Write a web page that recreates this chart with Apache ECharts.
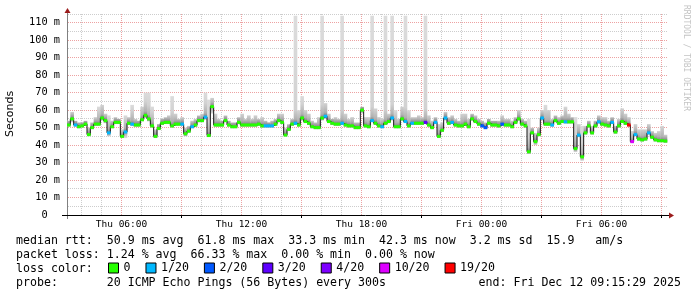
<!DOCTYPE html>
<html><head><meta charset="utf-8">
<script src="https://cdn.jsdelivr.net/npm/echarts@6/dist/echarts.min.js"></script>
<style>html,body{margin:0;padding:0;background:#fff}#c{width:697px;height:297px}</style>
</head><body><div id="c"></div>
<script>
// time axis in hours since Thu 00:00; data start Thu 03:18, 10-minute steps
const startHour = 3.3;
const endHour = 33.3;
const stepHours = 1 / 6;

const median = [51.5,55,51.5,50.5,51,52,46,50,52,52,
 55.5,54,47,50.5,53,53,45,47.5,52.5,52,
 51.5,51.5,54.5,57,55,51,45,49.5,52.5,53,
 53,51,52,52,52,46.5,48,50.5,51.5,54,
 54,56,45.5,62,51.5,51.5,51.5,54,51.5,50.5,
 50.5,53,51.5,51.5,51.5,51.5,51.5,52,51,51,
 51,51,52,54,53,45.7,49,52,52.5,51.5,
 55.5,53.5,52.5,50.5,50,50,55.5,56.5,53.5,52.5,
 52,52,52.5,51.5,51,51,50,50,60,51,
 50.5,54,52.5,51,50.5,52.5,53.5,55.5,50.5,50.5,
 55,53.5,51,52.5,52.5,52.5,52.5,53,51.5,50,
 53,45,48.5,55.5,52.5,53,51.5,51,51,52,
 50.5,55,53.5,52,51,50,52.5,51.5,51.5,51,
 52,51.5,51.5,50.5,53,55,52,51,36.2,47,
 42,46,55.5,52,52,51.5,54,52.5,53.5,53.3,
 53.3,53.3,38,45.7,33.3,47,51,47,51,53.3,
 52,51.5,51,53,47.5,51,53.5,52.5,51.5,42,
 46,43.5,43,43.5,47,44.5,43,42.5,42.5,42.3];

const loss = [0,0,1,0,0,0,0,0,0,0,
 0,0,1,0,0,0,0,1,0,1,
 0,0,0,0,0,0,0,0,0,0,
 0,0,0,0,1,0,0,1,0,0,
 0,1,0,0,0,0,0,0,0,0,
 0,0,0,0,0,0,0,0,0,1,
 1,1,0,0,0,0,0,0,1,0,
 0,0,0,0,0,0,0,1,0,0,
 0,0,1,0,0,0,0,0,0,0,
 0,1,0,0,1,0,0,1,0,0,
 0,1,0,1,0,0,0,3,0,0,
 1,0,0,1,0,1,0,0,0,0,
 0,0,0,0,2,2,0,0,0,0,
 2,0,0,0,0,0,0,0,0,0,
 0,0,1,0,0,1,0,0,0,1,
 0,0,0,1,0,0,0,0,0,1,
 0,0,0,1,0,0,0,0,6,5,
 1,0,0,0,1,0,0,0,0,0];

const smokeHi = [54,59,54,53,53,54,50,53,56,62,
 63,58,57,54,56,55,49,57,56,63,
 55,54,62,70,70,62,49,52,55,56,
 57,68,58,55,56,50,51,54,55,57,
 58,70,66,67,58,55,54,57,54,53,
 53,56,58,55,57,55,57,55,56,54,
 53,54,55,58,58,50,52,55,114,60,
 68,60,58,54,53,56,114,64,58,55,
 56,55,114,58,55,56,53,53,62,56,
 56,114,61,56,55,114,58,114,60,55,
 62,114,60,56,56,57,56,114,57,54,
 56,52,53,59,56,57,55,54,58,58,
 55,58,57,55,54,53,55,54,54,54,
 57,55,55,54,56,60,55,54,55,50,
 47,50,60,63,60,55,57,56,57,62,
 58,56,56,52,51,51,54,51,54,57,
 56,56,54,56,51,55,61,58,56,48,
 52,49,49,49,52,48,47,48,51,46];

const smokeLo = [50.5,53,50.5,49.5,50,51,45,49,51,51,
 54,52.5,45,49.5,52,52,44,44,51.5,51,
 50.5,50.5,53.5,55.5,53.5,50,44,48.5,51.5,52,
 52,50,51,51,51,45,47,49.5,50.5,53,
 53,54.5,44.5,58,50.5,50.5,50.5,53,50.5,49.5,
 49.5,52,50.5,50.5,50.5,50.5,50.5,51,50,50,
 50,50,51,53,52,45,48,51,51.5,50.5,
 54,52.5,51.5,49.5,49,49,54,55,52.5,51.5,
 51,51,51.5,50.5,50,50,49,49,58,50,
 49.5,53,51.5,50,49.5,51.5,52.5,54,49.5,49.5,
 54,52.5,50,51.5,51.5,51.5,51.5,52,50.5,49,
 52,44,47.5,54,51.5,52,50.5,50,50,51,
 49.5,54,52.5,51,50,49,51.5,50.5,50.5,50,
 51,50.5,50.5,49.5,52,54,51,50,35,46,
 40,45,54,51,51,50.5,53,51.5,52.5,52.3,
 52.3,52.3,36,44.5,31,46,50,46,50,52.3,
 51,50.5,50,52,46.5,50,52.5,51.5,50.5,41,
 45,42.5,42,42.5,46,43.5,42,41.5,41.5,41.3];

const lossNames = ['0','1/20','2/20','3/20','4/20','10/20','19/20'];
const lossColors = ['#26ff00','#00b8ff','#0059ff','#5e00ff','#7e00ff','#dd00ff','#ff0000'];

const gridHours = [4,5,6,7,8,9,10,11,12,13,14,15,16,17,18,19,20,21,22,23,24,25,26,27,28,29,30,31,32,33];
const gridValues = [5,10,15,20,25,30,35,40,45,50,55,60,65,70,75,80,85,90,95,100,105,110,115];
const xLabels = {6:'Thu 06:00', 12:'Thu 12:00', 18:'Thu 18:00', 24:'Fri 00:00', 30:'Fri 06:00'};
const tickHours = [9,15,21,27,33];

const yMax = 115, yStep = 5;

const legendLines = [
  'median rtt:  50.9 ms avg  61.8 ms max  33.3 ms min  42.3 ms now  3.2 ms sd  15.9   am/s',
  'packet loss: 1.24 % avg  66.33 % max  0.00 % min  0.00 % now',
  'loss color:',
  'probe:       20 ICMP Echo Pings (56 Bytes) every 300s'
];
const endText = 'end: Fri Dec 12 09:15:29 2025';

const MONO = '"DejaVu Sans Mono", monospace';
const RED = '#eda2a2', GRAY = '#cdcdcd', ARROW = '#9b1c1c';

const chart = echarts.init(document.getElementById('c'), null, {renderer: 'canvas'});

const tStart = i => startHour + i * stepHours;
const smokeData = median.map((m, i) => [tStart(i), tStart(i + 1), smokeLo[i], m, smokeHi[i]]);
const lineData = median.map((m, i) => [tStart(i), m]);
lineData.push([endHour, median[median.length - 1]]);

function clampStops(offs, cols) {
  const out = [];
  let prev = 0;
  for (let k = 0; k < offs.length; k++) {
    let o = Math.min(1, Math.max(prev, offs[k]));
    out.push({offset: o, color: cols[k]});
    prev = o;
  }
  return out;
}

function renderSmoke(params, api) {
  const t0 = api.value(0), t1 = api.value(1), lo = api.value(2), med = api.value(3), hi = api.value(4);
  const pHi = api.coord([t0, hi]);
  const pLo = api.coord([t1, lo]);
  const pMed = api.coord([t0, med]);
  const yTop = pHi[1], yBot = pLo[1];
  const H = Math.max(1, yBot - yTop);
  const m = (pMed[1] - yTop) / H;
  const stops = clampStops([0, m - 14 / H, m - 4 / H, m, m + 2 / H, 1],
    ['#dcdcdc', '#d2d2d2', '#b0b0b0', '#7a7a7a', '#b4b4b4', '#dcdcdc']);
  return {
    type: 'rect',
    shape: {x: pHi[0], y: yTop, width: pLo[0] - pHi[0] + 0.3, height: H},
    style: {fill: new echarts.graphic.LinearGradient(0, 0, 0, 1, stops)}
  };
}

function renderLoss(params, api) {
  const p0 = api.coord([api.value(0), api.value(2)]);
  const p1 = api.coord([api.value(1), api.value(2)]);
  return {
    type: 'rect',
    shape: {x: p0[0], y: p0[1] - 1.5, width: p1[0] - p0[0] + 0.3, height: 3},
    style: {fill: api.visual('color')}
  };
}

// dotted line built from 1px squares every 2px
function dots(x1, y1, x2, y2, color) {
  const out = [];
  if (x1 === x2) {
    for (let y = y1; y < y2; y += 2) out.push({type: 'rect', shape: {x: x1, y: y, width: 1, height: 1}, style: {fill: color}});
  } else {
    for (let x = x1; x < x2; x += 2) out.push({type: 'rect', shape: {x: x, y: y1, width: 1, height: 1}, style: {fill: color}});
  }
  return out;
}

function renderVGrid(params, api) {
  const cs = params.coordSys;
  const h = api.value(0);
  const xi = Math.floor(api.coord([h, 0])[0]);
  const x = xi + 0.5;
  const bottom = cs.y + cs.height;
  let children = dots(xi, Math.round(cs.y), xi, Math.round(bottom), h % 3 === 0 ? RED : GRAY);
  if (tickHours.indexOf(h) >= 0) {
    children.push({type: 'line', shape: {x1: x, y1: bottom, x2: x, y2: bottom + 3},
      style: {stroke: '#000', lineWidth: 1}});
  }
  if (xLabels[h]) {
    children.push({type: 'text', x: x, y: bottom + 10,
      style: {text: xLabels[h], font: '9.5px ' + MONO, fill: '#000', align: 'center', verticalAlign: 'middle',
        textAlign: 'center', textVerticalAlign: 'middle'}});
  }
  if (params.dataIndex === 0) {
    const x0 = Math.floor(cs.x) + 0.5;
    const yb = Math.floor(bottom) + 0.5;
    const x1 = cs.x + cs.width;
    children.push({type: 'line', shape: {x1: x0, y1: bottom + 4, x2: x0, y2: cs.y - 1}, style: {stroke: '#808080', lineWidth: 1}});
    children.push({type: 'line', shape: {x1: cs.x - 5, y1: yb, x2: x1 + 2, y2: yb}, style: {stroke: '#000', lineWidth: 1}});
    children.push({type: 'polygon', shape: {points: [[x0, cs.y - 6], [x0 - 3, cs.y - 1], [x0 + 3, cs.y - 1]]}, style: {fill: ARROW}});
    children.push({type: 'polygon', shape: {points: [[x1 + 7, yb], [x1 + 2, yb - 3], [x1 + 2, yb + 3]]}, style: {fill: ARROW}});
  }
  return {type: 'group', children: children};
}

function renderHGrid(params, api) {
  const cs = params.coordSys;
  const v = api.value(1);
  const yi = Math.floor(api.coord([startHour, v])[1]);
  return {type: 'group', children: dots(Math.round(cs.x) + 1, yi, Math.round(cs.x + cs.width), yi, v % 10 === 0 ? RED : GRAY)};
}

const lossSeries = lossNames.map((name, k) => ({
  name: name,
  type: 'custom',
  z: 5,
  color: lossColors[k],
  itemStyle: {color: lossColors[k]},
  renderItem: renderLoss,
  encode: {x: [0, 1], y: 2},
  data: median.map((m, i) => loss[i] === k ? [tStart(i), tStart(i + 1), m] : null).filter(d => d !== null),
  silent: true,
  animation: false
}));

const textEls = [];
const rowY = [241, 255, 269, 283];
legendLines.forEach((t, r) => {
  textEls.push({type: 'text', x: 16, y: rowY[r],
    style: {text: t, font: '11.6px ' + MONO, fill: '#000', verticalAlign: 'middle', textVerticalAlign: 'middle'}});
});
textEls.push({type: 'text', x: 681, y: rowY[3],
  style: {text: endText, font: '11.6px ' + MONO, fill: '#000', align: 'right', textAlign: 'right', verticalAlign: 'middle', textVerticalAlign: 'middle'}});
textEls.push({type: 'text', x: 10, y: 114, rotation: Math.PI / 2,
  style: {text: 'Seconds', font: '11px "DejaVu Sans"', fill: '#000', align: 'center', textAlign: 'center', verticalAlign: 'middle', textVerticalAlign: 'middle'}});
textEls.push({type: 'text', x: 686, y: 5, rotation: -Math.PI / 2,
  style: {text: 'RRDTOOL / TOBI OETIKER', font: '8px ' + MONO, fill: '#c4c4c4', align: 'left', textAlign: 'left', verticalAlign: 'middle', textVerticalAlign: 'middle'}});

chart.setOption({
  animation: false,
  backgroundColor: '#fff',
  grid: {left: 67, right: 30, top: 14, bottom: 82, containLabel: false},
  legend: {
    data: lossNames, left: 108, top: 262, padding: 0, icon: 'rect',
    itemWidth: 10, itemHeight: 10, itemGap: 15, selectedMode: false,
    itemStyle: {borderColor: '#000', borderWidth: 1},
    textStyle: {fontFamily: MONO, fontSize: 11.6, color: '#000'}
  },
  xAxis: {type: 'value', min: startHour, max: endHour, show: true,
    axisLine: {show: false}, axisTick: {show: false}, axisLabel: {show: false}, splitLine: {show: false}},
  yAxis: {type: 'value', min: 0, max: yMax, interval: yStep,
    axisLine: {show: false}, axisTick: {show: false},
    splitLine: {show: false},
    axisLabel: {margin: 7, fontFamily: MONO, fontSize: 10.3, color: '#000',
      formatter: v => (v % 10 !== 0 ? '' : (v === 0 ? '0  ' : v + ' m'))}
  },
  graphic: textEls,
  series: [
    {type: 'custom', z: 1, renderItem: renderHGrid, encode: {x: 0, y: 1},
      data: gridValues.map(v => [startHour, v]), silent: true, animation: false},
    {type: 'custom', z: 1, renderItem: renderVGrid, encode: {x: 0, y: 1},
      data: gridHours.map(h => [h, 0]), silent: true, animation: false},
    {type: 'custom', z: 2, renderItem: renderSmoke, encode: {x: [0, 1], y: [2, 4]},
      data: smokeData, silent: true, animation: false},
    {type: 'line', z: 3, step: 'end', data: lineData, symbol: 'none', silent: true,
      lineStyle: {color: '#161616', width: 1}, animation: false}
  ].concat(lossSeries)
});
</script>
</body></html>
